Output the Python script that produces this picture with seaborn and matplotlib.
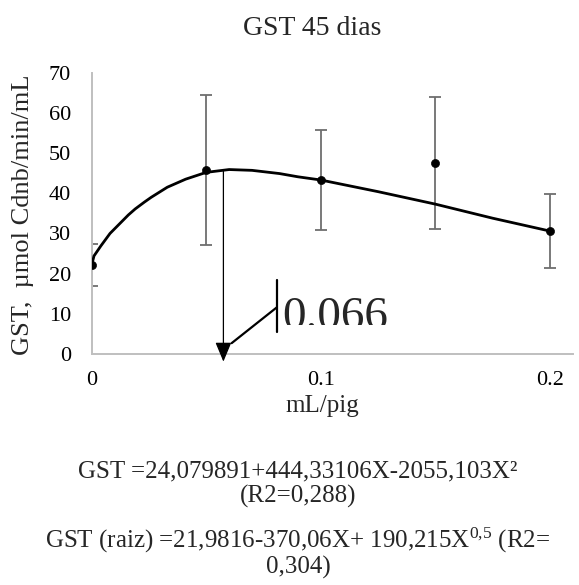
import numpy as np
import pandas as pd
import matplotlib
matplotlib.use('Agg')
import matplotlib.pyplot as plt
from matplotlib.patches import Rectangle
import seaborn as sns

# mean GST activity with error bars, per dose
dose = [0, 0.05, 0.1, 0.15, 0.2]
gst_mean = [22.1, 45.8, 43.3, 47.5, 30.6]
gst_err = [5.2, 18.6, 12.4, 16.4, 9.1]

# fitted curve
curve_x = [0, 0.001, 0.004, 0.008, 0.012, 0.016, 0.019, 0.023, 0.026, 0.033,
           0.041, 0.05, 0.06, 0.07, 0.082, 0.09, 0.1, 0.125, 0.15, 0.175, 0.2]
curve_y = [22.1, 24.4, 26.9, 30.0, 32.3, 34.6, 36.1, 37.8, 39.0, 41.5,
           43.5, 45.2, 45.9, 45.7, 44.9, 44.1, 43.3, 40.4, 37.3, 33.8, 30.6]

peak_x = 0.0575
peak_y = 45.9
peak_label = '0.066'

xticks = [0, 0.1, 0.2]
xtick_labels = ['0', '0.1', '0.2']
yticks = [0, 10, 20, 30, 40, 50, 60, 70]

title = 'GST 45 dias'
xlabel = 'mL/pig'
ylabel = 'GST,  µmol Cdnb/min/mL'
eq_lines = ['GST =24,079891+444,33106X-2055,103X²',
            '(R2=0,288)',
            r'GST (raiz) =21,9816-370,06X+ 190,215X$^{\mathrm{0{,}5}}$ (R2=',
            '0,304)']

sns.set_style('white')
plt.rcParams['font.family'] = ['Liberation Serif', 'DejaVu Serif']
plt.rcParams['mathtext.fontset'] = 'custom'
plt.rcParams['mathtext.rm'] = 'Liberation Serif'
plt.rcParams['mathtext.it'] = 'Liberation Serif:italic'

W, H = 579, 585
fig = plt.figure(figsize=(W / 100, H / 100), dpi=100)
ax = fig.add_axes([91.7 / W, (H - 354) / H, (572.7 - 91.7) / W, (354 - 72.7) / H])

df = pd.DataFrame({'dose': dose, 'gst': gst_mean, 'err': gst_err})
curve = pd.DataFrame({'x': curve_x, 'y': curve_y})

ax.errorbar(df['dose'], df['gst'], yerr=df['err'], fmt='none',
            ecolor='#6e6e6e', elinewidth=1.3, capsize=4.5, capthick=1.3, zorder=2)
sns.lineplot(data=curve, x='x', y='y', ax=ax, color='black', lw=2.0, zorder=3)
sns.scatterplot(data=df, x='dose', y='gst', ax=ax, color='black', s=34,
                edgecolor='black', zorder=4)

# arrow from the peak down to the x axis
ax.annotate('', xy=(peak_x, -1.9), xytext=(peak_x, peak_y),
            arrowprops=dict(arrowstyle='-|>,head_length=1.2,head_width=0.5',
                            color='black', lw=0.9, shrinkA=0, shrinkB=0,
                            mutation_scale=10),
            annotation_clip=False, zorder=5)
ax.plot([0.0611, 0.0808], [2.7, 11.6], color='black', lw=1.6, zorder=5)
ax.plot([0.0808, 0.0808], [5.5, 18.4], color='black', lw=1.6, zorder=5)
t = ax.text(0.0832, 6.2, peak_label, fontsize=34, ha='left', va='baseline')
t.set_clip_on(True)
t.set_clip_path(Rectangle((0.08, 7.3), 0.1, 30, transform=ax.transData))

ax.set_xlim(0, 0.21)
ax.set_ylim(0, 70)
ax.set_xticks(xticks)
ax.set_xticklabels(xtick_labels)
ax.set_yticks(yticks)
ax.tick_params(axis='both', length=0, labelsize=16, colors='black')
ax.tick_params(axis='x', pad=12)
ax.tick_params(axis='y', pad=15)
ax.set_xlabel('')
ax.set_ylabel('')
for side in ['top', 'right']:
    ax.spines[side].set_visible(False)
for side in ['left', 'bottom']:
    ax.spines[side].set_color('#bfbfbf')
    ax.spines[side].set_linewidth(1.4)

fig.text(312 / W, 1 - 35 / H, title, fontsize=20, ha='center', va='baseline')
fig.text(322 / W, 1 - 412 / H, xlabel, fontsize=18, ha='center', va='baseline')
fig.text(23 / W, 1 - 215 / H, ylabel, fontsize=19, rotation=90,
         ha='center', va='center')

for line, base in zip(eq_lines, [477, 503, 548, 574]):
    fig.text(298 / W, 1 - base / H, line, fontsize=18, ha='center', va='baseline')

fig.savefig('out.png', dpi=100)
